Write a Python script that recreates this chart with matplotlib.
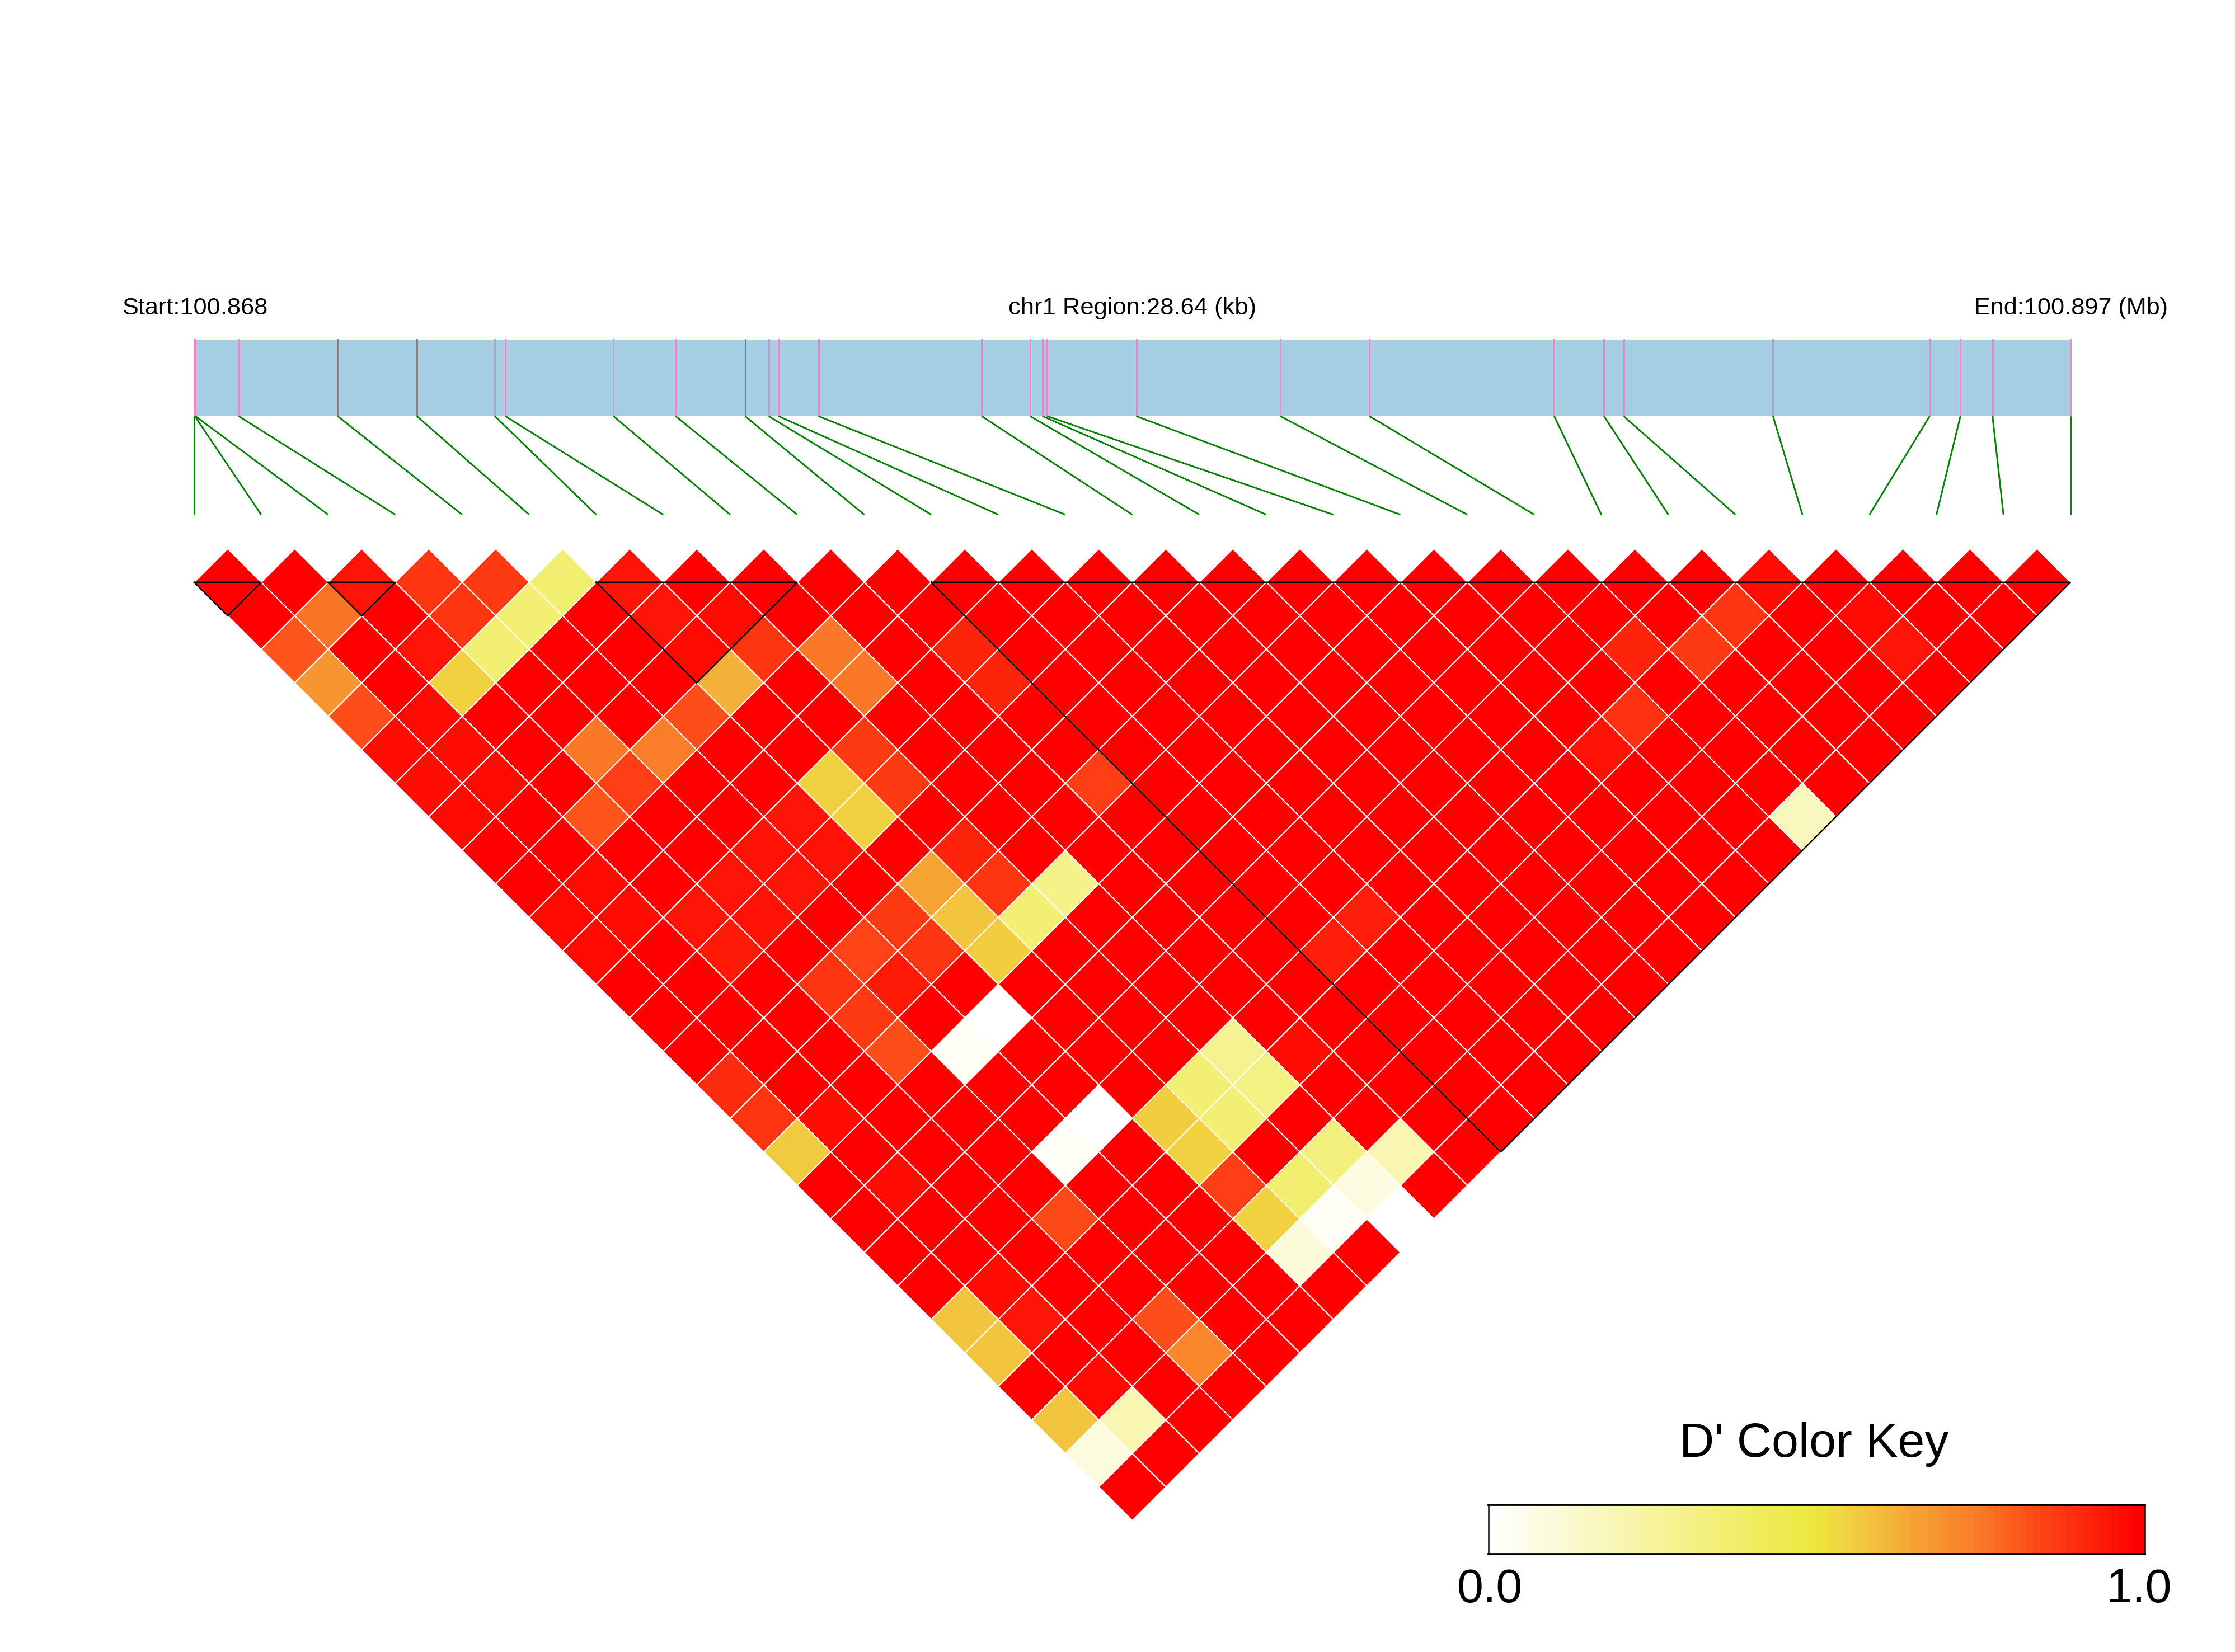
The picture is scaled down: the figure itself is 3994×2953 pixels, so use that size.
import numpy as np
import matplotlib
matplotlib.use("Agg")
import matplotlib.pyplot as plt
from matplotlib.collections import PolyCollection
from matplotlib.colors import LinearSegmentedColormap

plt.rcParams['font.family'] = ['Liberation Sans', 'DejaVu Sans']

# SNP positions along the region, kb from the start
snp_kb = [0.00, 0.01, 0.02, 0.68, 2.19, 3.40, 4.59, 4.75, 6.40, 7.35,
          8.41, 8.77, 8.92, 9.53, 12.02, 12.76, 12.95, 13.02, 14.38, 16.58,
          17.94, 20.76, 21.52, 21.82, 24.10, 26.49, 26.96, 27.45, 28.64]
region_kb = 28.64
gray_snps = [4, 5, 10]

# D' values: one list per diagonal of the triangle (0 = adjacent SNP pairs)
diag_00 = [1,1,.95,.88,.87,.37,.95,1,1,1,1,1,1,1,1,1,1,1,1,1,1,1,1,.97,1,1,1,1]
diag_01 = [1,.76,1,.88,.36,1,.95,.98,1,1,1,1,1,1,1,1,1,1,1,1,1,1,.88,1,.98,1,1]
diag_02 = [.82,1,.95,.36,1,1,.98,.88,.75,1,.92,1,1,1,1,1,1,1,1,1,.92,.87,1,1,.95,1]
diag_03 = [.68,1,.55,1,1,1,.62,1,.75,1,.92,1,1,1,1,1,1,1,1,1,1,1,1,1,1]
diag_04 = [.83,.98,1,1,1,.83,1,1,1,1,1,1,1,1,1,1,1,1,1,.89,1,1,1,1]
diag_05 = [.97,.97,1,.75,.74,1,1,.87,1,1,1,1,1,1,1,1,1,1,.96,1,1,1,1]
diag_06 = [.97,.98,1,.86,1,1,.55,.87,1,1,.86,1,1,1,1,1,1,1,1,1,1,1]
diag_07 = [.98,1,.82,1,1,.95,.55,1,1,1,1,1,1,1,1,1,1,1,1,1,.17]
diag_08 = [1,1,1,1,.96,.96,1,.92,1,1,1,1,1,1,1,1,1,1,1,1]
diag_09 = [1,.98,1,.95,.95,1,.65,.88,.30,1,1,1,1,1,1,1,1,1,1]
diag_10 = [.98,.97,.95,.96,1,.87,.58,.36,1,1,1,1,.93,1,1,1,1,1]
diag_11 = [.98,1,.94,1,.85,.88,.56,1,1,1,1,.93,1,1,1,1,1]
diag_12 = [1,1,1,.88,.94,1,1,1,1,1,1,1,1,1,1,1]
diag_13 = [1,1,1,.87,1,0,1,1,1,1,1,1,1,1,1]
diag_14 = [1,1,1,.83,.03,1,1,1,.28,.97,1,1,1,1]
diag_15 = [.90,1,1,1,1,1,1,.36,.32,1,1,1,1]
diag_16 = [.88,.97,1,1,1,0,.56,.36,1,1,1,1]
diag_17 = [.57,1,1,1,.03,1,.55,1,.33,.20,1]
diag_18 = [1,.97,1,1,1,1,.86,.37,.08,1]
diag_19 = [1,1,1,.84,1,1,.55,.03,0]
diag_20 = [1,1,1,1,1,1,.10,1]
diag_21 = [1,.97,1,1,1,1,1]
diag_22 = [.58,.95,1,.83,1,1]
diag_23 = [.58,1,1,.72,1]
diag_24 = [1,.98,1,1]
diag_25 = [.58,.20,1]
diag_26 = [.08,1]
diag_27 = [1]
diagonals = [diag_00, diag_01, diag_02, diag_03, diag_04, diag_05, diag_06,
             diag_07, diag_08, diag_09, diag_10, diag_11, diag_12, diag_13,
             diag_14, diag_15, diag_16, diag_17, diag_18, diag_19, diag_20,
             diag_21, diag_22, diag_23, diag_24, diag_25, diag_26, diag_27]

# LD blocks: first and last SNP index
block_start = [0, 2, 6, 11]
block_end = [1, 3, 9, 28]

W, H = 3994, 2953
fig = plt.figure(figsize=(W / 300, H / 300), dpi=300, facecolor='white')


def axes_px(x0, y0, x1, y1):
    ax = fig.add_axes([x0 / W, 1 - y1 / H, (x1 - x0) / W, (y1 - y0) / H])
    ax.patch.set_alpha(0)
    return ax


def text_px(x, y, s, size, ha='center'):
    fig.text(x / W, 1 - y / H, s, fontsize=size, ha=ha, va='baseline', color='black')


cmap = LinearSegmentedColormap.from_list('dprime', [
    (0.00, '#FFFFFF'), (0.49, '#EEE93F'), (0.57, '#F2C940'), (0.65, '#F6A334'),
    (0.75, '#FA7A28'), (0.86, '#FE3F14'), (1.00, '#FF0000')], N=256)

LEFT, RIGHT = 347, 3700

# region bar
ax_map = axes_px(LEFT, 607, RIGHT, 744)
ax_map.set_xlim(0, region_kb)
ax_map.set_ylim(0, 1)
ax_map.axis('off')
ax_map.axvspan(0, region_kb, color='#A6CEE3', lw=0)
for i, kb in enumerate(snp_kb):
    ax_map.axvline(kb, color='#808080' if i in gray_snps else '#E78AC3',
                   lw=0.7, clip_on=False)

# connectors from the bar to evenly spaced SNP slots
ax_link = axes_px(LEFT, 744, RIGHT, 920)
ax_link.set_xlim(0, region_kb)
ax_link.set_ylim(0, 1)
ax_link.axis('off')
n_snp = len(snp_kb)
for i, kb in enumerate(snp_kb):
    ax_link.plot([kb, i * region_kb / (n_snp - 1)], [1, 0], color='#008000',
                 lw=0.7, clip_on=False, solid_capstyle='butt')

# LD triangle (x in SNP slots, y in half-diagonal units)
ax_ld = axes_px(LEFT, 1040.8 - 59.875, RIGHT, 2718)
ax_ld.set_xlim(0, n_snp - 1)
ax_ld.set_ylim(14, -0.5)
ax_ld.axis('off')
polys, vals = [], []
for d, row in enumerate(diagonals):
    for k, v in enumerate(row):
        cx, cy = k + 0.5 + d / 2, d / 2
        polys.append([(cx - .5, cy), (cx, cy - .5), (cx + .5, cy), (cx, cy + .5)])
        vals.append(v)
cells = PolyCollection(polys, array=np.array(vals), cmap=cmap, clim=(0, 1),
                       edgecolors='white', linewidths=0.5)
ax_ld.add_collection(cells)
for s, e in zip(block_start, block_end):
    ax_ld.plot([s, e, (s + e) / 2, s], [0, 0, (e - s) / 2, 0], color='black',
               lw=0.6, clip_on=False, solid_joinstyle='miter')

# colour key
ax_key = axes_px(2660, 2690, 3833, 2778)
key_steps = np.linspace(0, 1, 100)[None, :]
ax_key.imshow(key_steps, cmap=cmap, vmin=0, vmax=1, aspect='auto',
              extent=(0, 1, 0, 1), interpolation='nearest')
ax_key.set_xticks([])
ax_key.set_yticks([])
for name, sp in ax_key.spines.items():
    sp.set_linewidth(0.9 if name in ('top', 'bottom') else 0.6)
    sp.set_color('black')

# texts
text_px(348.5, 562, 'Start:100.868', 10.4)
text_px(2024, 562, 'chr1 Region:28.64 (kb)', 10.45)
text_px(3701, 562, 'End:100.897 (Mb)', 10.4)
text_px(3242, 2604, "D' Color Key", 20.7)
text_px(2662, 2864, '0.0', 20.3)
text_px(3822, 2864, '1.0', 20.3)

fig.savefig('out.png', dpi=300, facecolor='white')
